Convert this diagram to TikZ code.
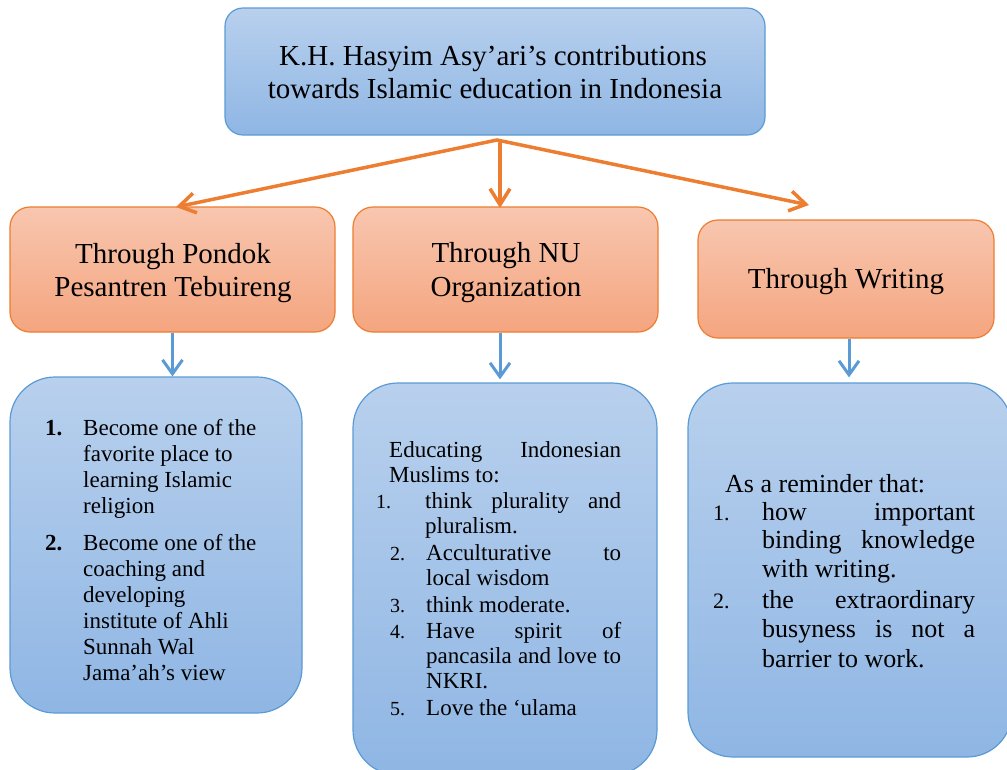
\documentclass[tikz,border=0pt]{standalone}
\usepackage{fontspec}
\setmainfont{Liberation Serif}
\usetikzlibrary{arrows.meta}
\definecolor{bdrblue}{RGB}{91,155,213}
\definecolor{btop}{RGB}{184,208,237}
\definecolor{bbot}{RGB}{143,182,228}
\definecolor{otop}{RGB}{248,198,175}
\definecolor{obot}{RGB}{244,165,127}
\definecolor{bdrorange}{RGB}{237,125,49}
\definecolor{arrorange}{RGB}{237,125,49}
\begin{document}
\begin{tikzpicture}[x=1pt,y=-1pt,
  bluebox/.style={draw=bdrblue, line width=1.2pt, top color=btop, bottom color=bbot, inner sep=0pt},
  orangebox/.style={draw=bdrorange, line width=1.2pt, top color=otop, bottom color=obot, inner sep=0pt, rounded corners=20pt},
  txt/.style={inner sep=0pt, anchor=base west},
  ctxt/.style={inner sep=0pt, anchor=base},
  titlefont/.style={font=\fontsize{29}{34}\selectfont},
  headfont/.style={font=\fontsize{29}{34}\selectfont},
  smallfont/.style={font=\fontsize{23}{26}\selectfont},
  bigfont/.style={font=\fontsize{26}{29}\selectfont},
  numfont/.style={font=\fontsize{20}{24}\selectfont},
  oarrow/.style={draw=arrorange, line width=3.5pt, line cap=round, -{Straight Barb[length=16pt,width=20pt,line width=3.5pt]}},
  barrow/.style={draw=bdrblue, line width=3pt, -{Straight Barb[length=14pt,width=20pt,line width=3pt]}}
]
\useasboundingbox (0,0) rectangle (1007,769);
\clip (0,0) rectangle (1007,769);

% top box
\node[bluebox, rounded corners=18pt, minimum width=540pt, minimum height=127pt] (top) at (495,71.5) {};
\node[ctxt, titlefont] (t1) at (493,65) {K.H. Hasyim Asy’ari’s contributions};
\node[ctxt, titlefont] (t2) at (495,98) {towards Islamic education in Indonesia};

% orange boxes
\node[orangebox, minimum width=325pt, minimum height=125pt] (oL) at (172.5,269.5) {};
\node[orangebox, minimum width=305pt, minimum height=125pt] (oM) at (505.5,269.5) {};
\node[orangebox, minimum width=296pt, minimum height=118pt] (oR) at (846,279) {};
\node[ctxt, headfont] (oL1) at (173,263) {Through Pondok};
\node[ctxt, headfont] (oL2) at (173,296) {Pesantren Tebuireng};
\node[ctxt, headfont] (oM1) at (506,262) {Through NU};
\node[ctxt, headfont] (oM2) at (506,296) {Organization};
\node[ctxt, headfont] (oR1) at (846,288) {Through Writing};

% orange arrows
\coordinate (hub) at (497,140);
\coordinate (hubm) at (500,143);
\coordinate (aL) at (176,207);
\coordinate (aM) at (500,208);
\coordinate (aR) at (809,205);
\draw[oarrow] (hub) -- (aL);
\draw[oarrow] (hubm) -- (aM);
\draw[oarrow] (hub) -- (aR);

% blue boxes
\node[bluebox, rounded corners=45pt, minimum width=292pt, minimum height=336pt] (bL) at (156,545) {};
\node[bluebox, rounded corners=45pt, minimum width=304pt, minimum height=392pt] (bM) at (505,579) {};
\node[bluebox, rounded corners=45pt, minimum width=324pt, minimum height=374pt] (bR) at (850,570) {};

% blue arrows
\coordinate (mx) at (500,0);
\coordinate (rx) at (849,0);
\draw[barrow] (oL.south) -- (oL.south |- bL.north);
\draw[barrow, shorten >=3pt] (oM.south -| mx) -- (bM.north -| mx);
\draw[barrow, shorten >=5pt] (oR.south -| rx) -- (bR.north -| rx);

% left list
\begin{scope}[smallfont]
\node[txt, font=\fontsize{23}{26}\selectfont\bfseries] (lN1) at (45,435) {1.};
\node[txt] (lA1) at (83,435) {Become one of the};
\node[txt] (lA2) at (83,461) {favorite place to};
\node[txt] (lA3) at (83,487) {learning Islamic};
\node[txt] (lA4) at (83,513) {religion};
\node[txt, font=\fontsize{23}{26}\selectfont\bfseries] (lN2) at (45,550) {2.};
\node[txt] (lB1) at (83,550) {Become one of the};
\node[txt] (lB2) at (83,576) {coaching and};
\node[txt] (lB3) at (83,602) {developing};
\node[txt] (lB4) at (83,628) {institute of Ahli};
\node[txt] (lB5) at (83,654) {Sunnah Wal};
\node[txt] (lB6) at (83,680) {Jama’ah’s view};

% middle list
\node[txt] (mI1) at (389,457) {\hbox to 232pt{Educating\hfill Indonesian}};
\node[txt] (mI2) at (389,482) {Muslims to:};
\node[txt, numfont] (mN1) at (376,508) {1.};
\node[txt] (mA1) at (425,508) {\hbox to 196pt{think\hfill plurality\hfill and}};
\node[txt] (mA2) at (425,533) {pluralism.};
\node[txt, numfont] (mN2) at (390,560) {2.};
\node[txt] (mB1) at (426,560) {\hbox to 195pt{Acculturative\hfill to}};
\node[txt] (mB2) at (426,585) {local wisdom};
\node[txt, numfont] (mN3) at (390,612) {3.};
\node[txt] (mC1) at (426,612) {think moderate.};
\node[txt, numfont] (mN4) at (390,638) {4.};
\node[txt] (mD1) at (426,638) {\hbox to 195pt{Have\hfill spirit\hfill of}};
\node[txt] (mD2) at (426,663) {\hbox to 195pt{pancasila\hfill and\hfill love\hfill to}};
\node[txt] (mD3) at (426,688) {NKRI.};
\node[txt, numfont] (mN5) at (390,715) {5.};
\node[txt] (mE1) at (426,715) {Love the ‘ulama};
\end{scope}

% right list
\begin{scope}[bigfont]
\node[txt] (rI) at (725,492) {As a reminder that:};
\node[txt, font=\fontsize{22}{26}\selectfont] (rN1) at (713,520) {1.};
\node[txt] (rA1) at (762,520) {\hbox to 213pt{how\hfill important}};
\node[txt] (rA2) at (762,548) {\hbox to 213pt{binding\hfill knowledge}};
\node[txt] (rA3) at (762,577) {with writing.};
\node[txt, font=\fontsize{22}{26}\selectfont] (rN2) at (713,608) {2.};
\node[txt] (rB1) at (762,608) {\hbox to 213pt{the\hfill extraordinary}};
\node[txt] (rB2) at (762,637) {\hbox to 213pt{busyness\hfill is\hfill not\hfill a}};
\node[txt] (rB3) at (762,667) {barrier to work.};
\end{scope}
\end{tikzpicture}
\end{document}
